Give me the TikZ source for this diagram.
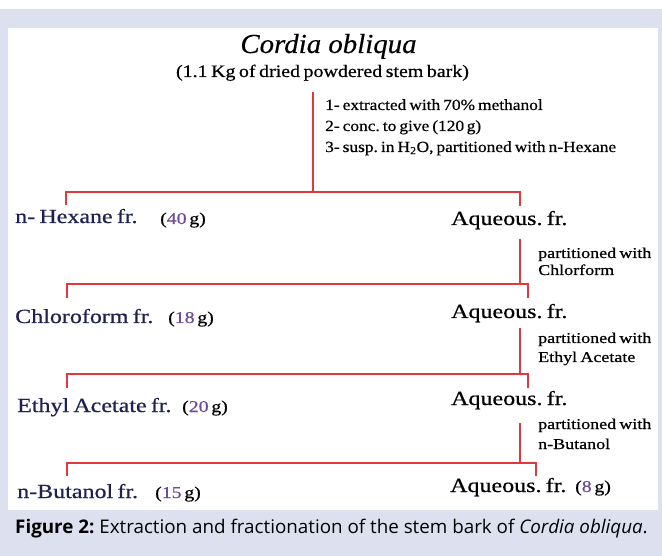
\documentclass[tikz,border=0pt]{standalone}
\usepackage{fontspec}
\setmainfont{Liberation Serif}
\newfontfamily\capfont{Open Sans}
\newfontfamily\widefont[FakeStretch=1.2, FakeBold=0.6, WordSpace=0.7]{Liberation Serif}
\newfontfamily\subfont[FakeStretch=1.14, FakeBold=0.5, WordSpace=0.7]{Liberation Serif}
\newfontfamily\stepfont[FakeStretch=1.12, FakeBold=0.5, WordSpace=0.7]{Liberation Serif}
\newfontfamily\titlefont[FakeStretch=1.05, FakeBold=0.4]{Liberation Serif}
\definecolor{lav}{HTML}{DDE1EF}
\definecolor{redl}{HTML}{E0383C}
\definecolor{navy}{HTML}{1F2150}
\definecolor{purp}{HTML}{6E4A9A}
\newcommand{\gm}[1]{({\color{purp}#1}\,g)}
\frenchspacing
\tikzset{
  link/.style={draw=redl, line width=1.4pt},
  frac/.style={anchor=base west, inner sep=0pt, text=navy, font=\widefont\fontsize{20}{22}\selectfont},
  aq/.style={anchor=base west, inner sep=0pt, text=black, font=\widefont\fontsize{20}{22}\selectfont},
  amt/.style={anchor=base west, inner sep=0pt, text=black, font=\widefont\fontsize{16.5}{18}\selectfont},
  stepl/.style={anchor=base west, inner sep=0pt, font=\stepfont\fontsize{15.5}{18}\selectfont},
  part/.style={anchor=base west, inner sep=0pt, font=\widefont\fontsize{15}{18}\selectfont, align=left},
}
\begin{document}
\begin{tikzpicture}[x=1pt,y=-1pt]
\useasboundingbox (0,0) rectangle (662,556);
\fill[lav] (0,0) rectangle (662,556);
\fill[white] (0,0) rectangle (662,9);
\fill[white] (8,28) rectangle (658,510);

\node[anchor=base, inner sep=0pt, font=\titlefont\fontsize{27.5}{30}\selectfont\itshape] (src) at (328.5,53) {Cordia obliqua};
\node[anchor=base, inner sep=0pt, font=\subfont\fontsize{17.5}{20}\selectfont] (sub) at (322.5,77) {(1.1 Kg of dried powdered stem bark)};

\node[stepl] (s1) at (325,110) {1- extracted with 70\% methanol};
\node[stepl] (s2) at (325,131) {2- conc. to give (120\,g)};
\node[stepl] (s3) at (325,152) {3- susp. in H\textsubscript{2}O, partitioned with n-Hexane};

\node[frac] (hex) at (15,223) {n- Hexane fr.};
\node[amt] (hexg) at (160,224) {\gm{40}};
\node[aq] (aq1) at (451,225) {Aqueous. fr.};
\node[part] (p1) at (538,258) {partitioned with};
\node[part] (p1b) at (538,275) {Chlorform};

\node[frac] (chl) at (15,323) {Chloroform fr.};
\node[amt] (chlg) at (168,323) {\gm{18}};
\node[aq] (aq2) at (451,318) {Aqueous. fr.};
\node[part] (p2) at (538,343) {partitioned with};
\node[part] (p2b) at (538,362) {Ethyl Acetate};

\node[frac] (eth) at (17,412) {Ethyl Acetate fr.};
\node[amt] (ethg) at (182,412) {\gm{20}};
\node[aq] (aq3) at (451,405) {Aqueous. fr.};
\node[part] (p3) at (538,429) {partitioned with};
\node[part] (p3b) at (538,449) {n-Butanol};

\node[frac] (but) at (17,498) {n-Butanol fr.};
\node[amt] (butg) at (155,498) {\gm{15}};
\node[aq] (aq4) at (450,492) {Aqueous. fr.};
\node[amt] (aq4g) at (575,492) {\gm{8}};

\node[anchor=base west, inner sep=0pt, font=\capfont\fontsize{18.8}{22}\selectfont] (cap) at (15,533)
  {\textbf{Figure 2:} Extraction and fractionation of the stem bark of \textit{Cordia obliqua}.};

% connectors
\coordinate (t1) at (313,92);
\coordinate (j1) at (313,192);
\coordinate (l1) at (66,205);
\coordinate (r1) at (520,206);
\draw[link] (t1) -- (j1);
\draw[link] (l1) |- (j1) -| (r1);

\coordinate (t2) at (520,239);
\coordinate (j2) at (520,284);
\coordinate (l2) at (67,298);
\coordinate (r2) at (528,298);
\draw[link] (t2) -- (j2);
\draw[link] (l2) |- (j2) -| (r2);

\coordinate (t3) at (520,328);
\coordinate (j3) at (520,374);
\coordinate (l3) at (67,388);
\coordinate (r3) at (528,388);
\draw[link] (t3) -- (j3);
\draw[link] (l3) |- (j3) -| (r3);

\coordinate (t4) at (520,423);
\coordinate (j4) at (520,463);
\coordinate (l4) at (67,476);
\coordinate (r4) at (536,476);
\draw[link] (t4) -- (j4);
\draw[link] (l4) |- (j4) -| (r4);
\end{tikzpicture}
\end{document}
